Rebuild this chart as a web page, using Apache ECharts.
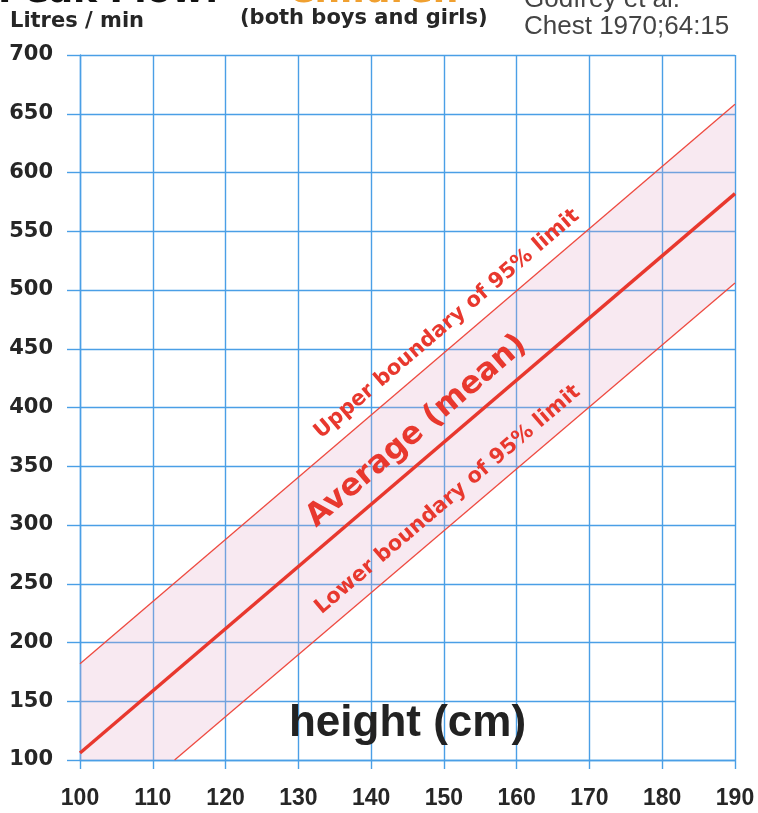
<!DOCTYPE html>
<html>
<head>
<meta charset="utf-8">
<script src="https://cdn.jsdelivr.net/npm/echarts@6/dist/echarts.min.js"></script>
<style>
  html, body { margin: 0; padding: 0; background: #ffffff; }
  #chart { width: 758px; height: 813px; }
</style>
</head>
<body>
<div id="chart"></div>
<script>
// Peak expiratory flow (litres/min) against height (cm) for children,
// after Godfrey et al., Chest 1970;64:15.

const heightTicks = [100, 110, 120, 130, 140, 150, 160, 170, 180, 190];
const flowTicks = [100, 150, 200, 250, 300, 350, 400, 450, 500, 550, 600, 650, 700];

// Average (mean) line
const meanHeights = [100, 190];
const meanFlow = [106, 582];

// Upper boundary of the 95% range
const upperHeights = [100, 190];
const upperFlow = [182, 658];

// Lower boundary of the 95% range (starts where it meets the 100 l/min floor)
const lowerHeights = [113, 190];
const lowerFlow = [100, 506];

const bandLabels = ['Upper boundary of 95% limit', 'Average (mean)', 'Lower boundary of 95% limit'];

const RED = '#e8382e';
const BLUE = '#4a9fe6';
const INK = '#262626';

const pairs = (xs, ys) => xs.map((x, i) => [x, ys[i]]);

const bandLines = [
  { h: upperHeights, v: upperFlow },
  { h: meanHeights, v: meanFlow },
  { h: lowerHeights, v: lowerFlow }
];
// where each caption sits along its line, how far above it, and its size
const captionLayout = [
  { at: 152.2, gap: 20, size: 21 },
  { at: 148.6, gap: 26, size: 31 },
  { at: 152.4, gap: 21, size: 21 }
];

const chart = echarts.init(document.getElementById('chart'), null, { renderer: 'canvas' });

const option = {
  backgroundColor: '#ffffff',
  animation: false,
  grid: { left: 80, right: 23, top: 55, bottom: 53 },
  xAxis: {
    type: 'value',
    min: heightTicks[0],
    max: heightTicks[heightTicks.length - 1],
    interval: heightTicks[1] - heightTicks[0],
    name: 'height (cm)',
    nameLocation: 'middle',
    nameGap: -36,
    nameTextStyle: {
      fontFamily: 'Liberation Sans', fontWeight: 'bold', fontSize: 44,
      color: '#222222', verticalAlign: 'middle'
    },
    axisLine: { show: true, lineStyle: { color: BLUE, width: 1.4 } },
    axisTick: { show: true, length: 9, lineStyle: { color: BLUE, width: 1.4 } },
    axisLabel: {
      margin: 27, color: INK, fontFamily: 'Liberation Sans', fontWeight: 'bold', fontSize: 23
    },
    splitLine: { show: true, lineStyle: { color: BLUE, width: 1.4 } }
  },
  yAxis: {
    type: 'value',
    min: flowTicks[0],
    max: flowTicks[flowTicks.length - 1],
    interval: flowTicks[1] - flowTicks[0],
    axisLine: { show: true, lineStyle: { color: BLUE, width: 1.4 } },
    axisTick: { show: true, length: 13, lineStyle: { color: BLUE, width: 1.4 } },
    axisLabel: {
      margin: 27, color: INK, fontFamily: 'DejaVu Sans', fontWeight: 'bold', fontSize: 21
    },
    splitLine: { show: true, lineStyle: { color: BLUE, width: 1.4 } }
  },
  graphic: [
    { type: 'text', x: -2, y: 11, z: 10,
      style: { text: 'Peak Flow:', fill: '#111111', font: 'bold 36px "DejaVu Sans"', verticalAlign: 'bottom' } },
    { type: 'text', x: 288, y: 11, z: 10,
      style: { text: 'Children', fill: '#f0a030', font: 'bold 36px "DejaVu Sans"', verticalAlign: 'bottom' } },
    { type: 'text', x: 10, y: 32, z: 10,
      style: { text: 'Litres / min', fill: INK, font: 'bold 21px "DejaVu Sans"', verticalAlign: 'bottom' } },
    { type: 'text', x: 240, y: 29, z: 10,
      style: { text: '(both boys and girls)', fill: INK, font: 'bold 21px "DejaVu Sans"', verticalAlign: 'bottom' } },
    { type: 'text', x: 524, y: 13, z: 10,
      style: { text: 'Godfrey et al.', fill: '#444444', font: '26px "Liberation Sans"', verticalAlign: 'bottom' } },
    { type: 'text', x: 524, y: 40, z: 10,
      style: { text: 'Chest 1970;64:15', fill: '#444444', font: '26px "Liberation Sans"', verticalAlign: 'bottom' } }
  ],
  series: [
    {
      // shaded 95% range between the two boundaries
      type: 'custom',
      coordinateSystem: 'cartesian2d',
      silent: true,
      z: 1,
      data: [[heightTicks[0], flowTicks[0]]],
      renderItem: function (params, api) {
        const pts = []
          .concat(upperHeights.map((h, i) => api.coord([h, upperFlow[i]])))
          .concat(lowerHeights.map((h, i) => api.coord([h, lowerFlow[i]])).reverse())
          .concat([api.coord([heightTicks[0], flowTicks[0]])]);
        return {
          type: 'polygon',
          shape: { points: pts },
          style: { fill: 'rgba(228, 170, 200, 0.26)' }
        };
      }
    },
    {
      name: 'Upper boundary',
      type: 'line',
      data: pairs(upperHeights, upperFlow),
      showSymbol: false, symbol: 'none', silent: true, z: 3,
      lineStyle: { color: '#ee4a40', width: 1.3 }
    },
    {
      name: 'Average (mean)',
      type: 'line',
      data: pairs(meanHeights, meanFlow),
      showSymbol: false, symbol: 'none', silent: true, z: 3,
      lineStyle: { color: RED, width: 3.4 }
    },
    {
      name: 'Lower boundary',
      type: 'line',
      data: pairs(lowerHeights, lowerFlow),
      showSymbol: false, symbol: 'none', silent: true, z: 3,
      lineStyle: { color: '#ee4a40', width: 1.3 }
    },
    {
      // captions written along each line
      type: 'custom',
      coordinateSystem: 'cartesian2d',
      silent: true,
      z: 4,
      data: bandLabels.map((_, i) => [heightTicks[0], flowTicks[0], i]),
      renderItem: function (params, api) {
        const k = params.dataIndex;
        const L = bandLines[k];
        const s = captionLayout[k];
        const p0 = api.coord([L.h[0], L.v[0]]);
        const p1 = api.coord([L.h[1], L.v[1]]);
        const xa = api.coord([s.at, flowTicks[0]])[0];
        const t = (xa - p0[0]) / (p1[0] - p0[0]);
        const dx = p1[0] - p0[0], dy = p1[1] - p0[1];
        const len = Math.hypot(dx, dy);
        const ux = dx / len, uy = dy / len;
        const nx = uy, ny = -ux;
        return {
          type: 'text',
          x: p0[0] + t * dx + nx * s.gap,
          y: p0[1] + t * dy + ny * s.gap,
          rotation: Math.atan2(-dy, dx),
          style: {
            text: bandLabels[k],
            fill: RED,
            font: 'bold ' + s.size + 'px "DejaVu Sans"',
            align: 'center',
            verticalAlign: 'middle'
          }
        };
      }
    }
  ]
};

chart.setOption(option);
</script>
</body>
</html>
